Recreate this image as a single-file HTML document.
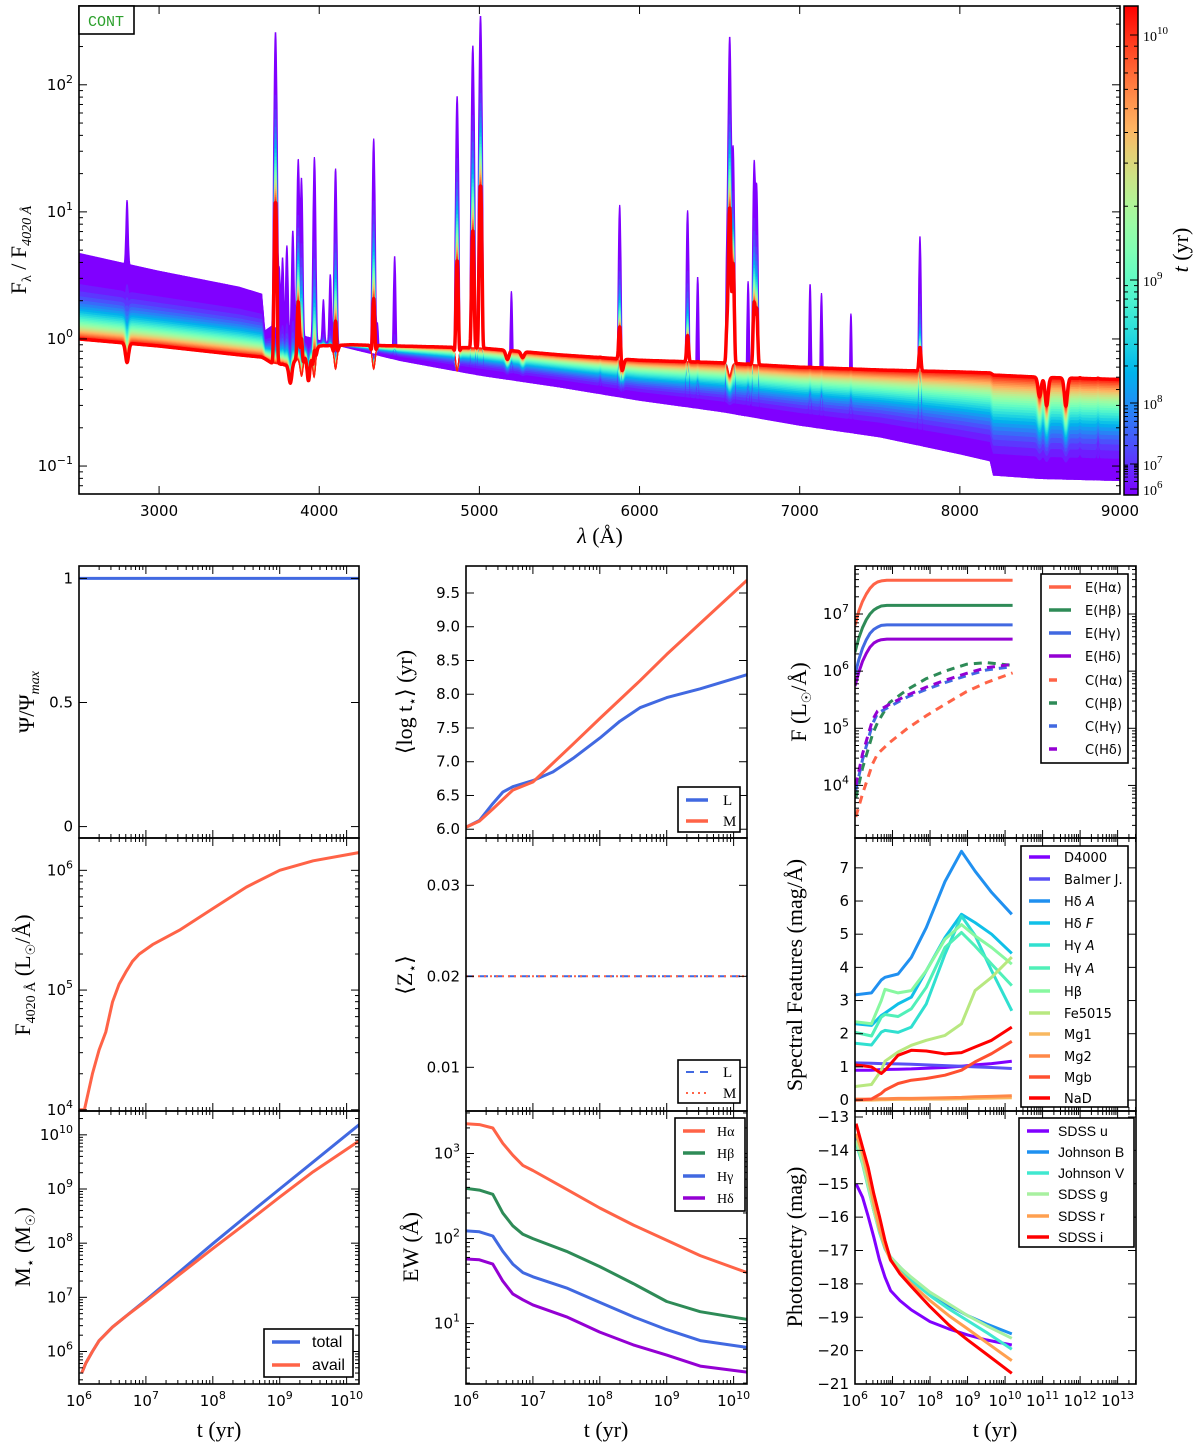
<!DOCTYPE html>
<html><head><meta charset="utf-8"><title>SED evolution</title>
<style>body{margin:0;background:#fff}svg{display:block}</style></head>
<body>
<svg id="fig" xmlns="http://www.w3.org/2000/svg" width="1200" height="1454" viewBox="0 0 1200 1454">
<rect x="0" y="0" width="1200" height="1454" fill="#fff"/>
<defs id="defs"></defs>
</svg>
<script>
// ---------------- DATA ----------------
const specWave=[2500,3000,3500,3640,3660,3700,3800,4000,4200,4500,5000,5500,6000,6500,7000,7500,8000,8190,8210,8500,9000];
const specYoung=[4.7,3.4,2.55,2.25,1.15,1.25,1.15,0.97,0.84,0.68,0.52,0.42,0.33,0.27,0.21,0.17,0.125,0.11,0.085,0.08,0.077];
const specOld=[1.0,0.88,0.75,0.72,0.7,0.65,0.62,0.88,0.9,0.88,0.85,0.75,0.68,0.65,0.6,0.57,0.55,0.54,0.52,0.5,0.48];
const lineWave=[2800,3727,3750,3771,3798,3835,3869,3889,3970,4026,4069,4102,4340,4363,4471,4861,4959,5007,5200,5755,5876,6300,6363,6548,6563,6584,6678,6716,6731,7065,7136,7320,7751,8750,8863];
const lineYoung=[9.5,260,3.5,4.2,5.3,7.0,26,18.5,27,2.1,3.3,22,38,1.6,4.8,82,205,350,2.9,1.2,12,11,3.8,8,240,34,3.6,26,17,3.5,3.1,2.4,7.3,0.75,1.2];
const lineOld=[0,12,0,0,0,0,2.0,1.2,1.0,0,0,1.5,2.2,0,0,4.3,7,16,0,0,1.3,1.1,0,1.5,11,4,0,2,1.8,0,0,0,1.0,0,0];
const absWave=[2800,3820,3890,3933,3968,4102,4340,4861,5175,5270,5890,6563,8498,8542,8662];
const absDepth=[0.3,0.3,0.3,0.4,0.4,0.35,0.35,0.35,0.15,0.1,0.2,0.2,0.3,0.4,0.4];
const cbTickLog=[6,7,8,9,10];
const sfrT=[6.0,10.2]; const sfrVal=[1,1];
const f4020T=[6.0,6.08,6.2,6.3,6.4,6.5,6.6,6.7,6.8,6.9,7.1,7.5,8.0,8.5,9.0,9.5,10.2];
const f4020Log=[4.0,4.0,4.3,4.5,4.65,4.9,5.05,5.15,5.24,5.3,5.38,5.5,5.68,5.86,6.0,6.08,6.15];
const massT=[6.04,6.1,6.2,6.3,6.5,6.7,7.0,7.5,8.0,8.5,9.0,9.5,10.2];
const massTotalLog=[5.6,5.78,6.0,6.2,6.45,6.65,6.95,7.47,7.99,8.5,9.0,9.5,10.2];
const massAvailLog=[5.6,5.78,6.0,6.2,6.45,6.65,6.93,7.42,7.9,8.37,8.85,9.32,9.9];
const ageT=[6.0,6.2,6.4,6.55,6.7,7.0,7.3,7.6,8.0,8.3,8.6,9.0,9.5,10.2];
const ageL=[6.03,6.13,6.38,6.55,6.63,6.72,6.85,7.05,7.35,7.6,7.8,7.95,8.08,8.29];
const ageM=[6.03,6.12,6.3,6.44,6.58,6.7,6.98,7.26,7.64,7.92,8.2,8.59,9.05,9.69];
const zT=[6.0,10.2]; const zL=[0.02,0.02]; const zM=[0.02,0.02];
const ewT=[6.0,6.2,6.4,6.55,6.7,6.85,7.0,7.5,8.0,8.5,9.0,9.5,10.2];
const ewHa=[3.35,3.34,3.30,3.12,2.98,2.86,2.80,2.58,2.36,2.16,1.98,1.80,1.60];
const ewHb=[2.59,2.57,2.52,2.30,2.15,2.05,2.0,1.85,1.67,1.47,1.26,1.14,1.05];
const ewHg=[2.09,2.08,2.03,1.85,1.70,1.60,1.55,1.42,1.25,1.08,0.93,0.80,0.72];
const ewHd=[1.76,1.75,1.70,1.50,1.35,1.28,1.22,1.08,0.90,0.75,0.63,0.50,0.43];
const emT=[6.0,6.1,6.2,6.3,6.4,6.5,6.6,6.7,6.85,7.0,8.0,9.0,10.2];
const emHa=[6.8,7.05,7.22,7.35,7.45,7.52,7.56,7.58,7.59,7.59,7.59,7.59,7.59];
const emHb=[6.33,6.58,6.76,6.9,7.0,7.07,7.11,7.14,7.15,7.15,7.15,7.15,7.15];
const emHg=[5.94,6.2,6.4,6.55,6.66,6.73,6.77,6.8,6.81,6.81,6.81,6.81,6.81];
const emHd=[5.74,5.98,6.17,6.31,6.42,6.49,6.53,6.55,6.56,6.56,6.56,6.56,6.56];
const coT=[6.02,6.2,6.47,6.6,6.92,7.4,7.9,8.4,8.97,9.5,10.2];
const coHa=[3.45,3.85,4.38,4.55,4.75,5.0,5.22,5.42,5.64,5.8,5.97];
const coHb=[3.78,4.3,4.9,5.1,5.45,5.68,5.87,6.0,6.12,6.15,6.1];
const coHg=[3.92,4.45,5.08,5.26,5.38,5.55,5.68,5.8,5.92,6.02,6.08];
const coHd=[4.0,4.55,5.15,5.3,5.42,5.58,5.72,5.84,5.96,6.06,6.12];
const sfT=[6.0,6.44,6.7,6.8,7.15,7.5,7.9,8.4,8.84,9.2,9.64,10.18];
const sfD4000=[0.9,0.9,0.92,0.92,0.93,0.94,0.96,0.98,1.02,1.06,1.1,1.17];
const sfBalmer=[1.12,1.11,1.1,1.1,1.09,1.08,1.06,1.04,1.02,1.0,0.98,0.95];
const sfHdA=[3.17,3.23,3.62,3.7,3.8,4.3,5.2,6.59,7.5,6.9,6.26,5.6];
const sfHdF=[2.3,2.25,2.55,2.62,2.9,3.1,3.9,4.9,5.6,5.35,5.0,4.42];
const sfHgA=[1.71,1.66,2.05,2.1,2.04,2.2,2.9,4.4,5.55,4.96,3.9,2.69];
const sfHgA2=[2.04,1.93,2.5,2.58,2.52,2.75,3.4,4.6,5.05,4.64,4.1,3.45];
const sfHb=[2.36,2.3,3.0,3.34,3.23,3.3,3.9,4.85,5.29,4.95,4.6,4.1];
const sfFe=[0.41,0.47,0.9,1.17,1.45,1.65,1.8,1.95,2.3,3.3,3.7,4.31];
const sfMg1=[0.0,0.0,0.01,0.01,0.02,0.02,0.03,0.03,0.04,0.05,0.06,0.07];
const sfMg2=[0.03,0.03,0.04,0.04,0.05,0.05,0.06,0.07,0.08,0.1,0.11,0.13];
const sfMgb=[0.0,0.03,0.2,0.3,0.5,0.6,0.65,0.75,0.9,1.15,1.4,1.77];
const sfNaD=[1.06,1.0,0.8,0.9,1.35,1.5,1.48,1.39,1.43,1.6,1.8,2.2];
const phT=[6.03,6.2,6.35,6.5,6.65,6.8,6.95,7.2,7.5,8.0,8.5,9.0,9.5,10.18];
const phU=[-15.0,-15.4,-15.97,-16.6,-17.28,-17.8,-18.2,-18.5,-18.78,-19.13,-19.35,-19.53,-19.68,-19.83];
const phB=[-13.6,-14.3,-15.0,-15.8,-16.4,-16.9,-17.2,-17.5,-17.85,-18.3,-18.65,-18.95,-19.2,-19.5];
const phV=[-13.8,-14.4,-15.1,-15.8,-16.45,-16.95,-17.25,-17.6,-17.9,-18.35,-18.75,-19.1,-19.45,-19.96];
const phG=[-13.7,-14.35,-15.05,-15.8,-16.4,-16.9,-17.2,-17.5,-17.8,-18.25,-18.6,-18.95,-19.25,-19.63];
const phR=[-13.5,-14.1,-14.8,-15.6,-16.35,-16.9,-17.3,-17.65,-18.0,-18.5,-18.95,-19.35,-19.75,-20.3];
const phI=[-13.2,-13.9,-14.5,-15.3,-15.97,-16.7,-17.28,-17.7,-18.08,-18.68,-19.23,-19.68,-20.1,-20.68];

// ---------------- HELPERS ----------------
const NS='http://www.w3.org/2000/svg';
const svg=document.getElementById('fig');
const defs=document.getElementById('defs');
const TF="'DejaVu Sans','Liberation Sans',sans-serif";
const SF="'Liberation Serif','DejaVu Serif',serif";
function mk(tag,attrs,parent){const e=document.createElementNS(NS,tag);for(const k in attrs)e.setAttribute(k,attrs[k]);parent.appendChild(e);return e;}
function rainbow(x){const r=Math.min(1,Math.abs(2*x-0.5)),g=Math.sin(Math.PI*x),b=Math.cos(Math.PI*x/2);
 return 'rgb('+Math.round(255*r)+','+Math.round(255*Math.max(0,g))+','+Math.round(255*Math.max(0,b))+')';}
let clipN=0;
function panel(p){
 const sx=v=>p.x0+(v-p.xd[0])/(p.xd[1]-p.xd[0])*(p.x1-p.x0);
 const sy=v=>p.y1-(v-p.yd[0])/(p.yd[1]-p.yd[0])*(p.y1-p.y0);
 const id='clip'+(clipN++);
 const cp=mk('clipPath',{id:id},defs);
 mk('rect',{x:p.x0,y:p.y0,width:p.x1-p.x0,height:p.y1-p.y0},cp);
 const g=mk('g',{'clip-path':'url(#'+id+')'},svg);
 
 
 return {sx,sy,g,p};
}
function logLabel(e,v){e.innerHTML='10<tspan dy="-7" font-size="11">'+(v<0?'\u2212'+(-v):v)+'</tspan>';}
function frame(P){
 const p=P.p,g=mk('g',{},svg);
 
 
 const tk=(x1,y1,x2,y2)=>{mk('line',{x1,y1,x2,y2,stroke:'#000','stroke-width':1},g);};
 const xmaj=p.xt, xmin=[];
 if(p.xlog){for(let d=Math.floor(p.xd[0]);d<=Math.ceil(p.xd[1]);d++)for(let m=2;m<10;m++){const v=d+Math.log10(m);if(v>p.xd[0]&&v<p.xd[1])xmin.push(v);}}
 xmaj.forEach(v=>{const x=P.sx(v);tk(x,p.y1,x,p.y1-8);tk(x,p.y0,x,p.y0+8);
   if(p.showX){const t=mk('text',{x:x,y:p.y1+22,'font-family':TF,'font-size':15,'text-anchor':'middle'},g);
     
     if(p.xlog)logLabel(t,v);else t.textContent=v;}});
 xmin.forEach(v=>{const x=P.sx(v);tk(x,p.y1,x,p.y1-4);tk(x,p.y0,x,p.y0+4);});
 const ymin=[];
 if(p.ylog){for(let d=Math.floor(p.yd[0]);d<=Math.ceil(p.yd[1]);d++)for(let m=2;m<10;m++){const v=d+Math.log10(m);if(v>p.yd[0]&&v<p.yd[1])ymin.push(v);}}
 p.yt.forEach(v=>{const y=P.sy(v);tk(p.x0,y,p.x0+8,y);tk(p.x1,y,p.x1-8,y);
   const t=mk('text',{x:p.x0-6,y:y+5,'font-family':TF,'font-size':15,'text-anchor':'end'},g);
   
   if(p.ylog)logLabel(t,v);else t.textContent=p.yfmt?p.yfmt(v):String(v).replace('-','\u2212');});
 ymin.forEach(v=>{const y=P.sy(v);tk(p.x0,y,p.x0+4,y);tk(p.x1,y,p.x1-4,y);});
 mk('rect',{x:p.x0,y:p.y0,width:p.x1-p.x0,height:p.y1-p.y0,fill:'none',stroke:'#000','stroke-width':1.6},g);
}
function series(P,xs,ys,color,w,dash,name){
 const d=xs.map((x,i)=>(i?'L':'M')+P.sx(x).toFixed(1)+','+P.sy(ys[i]).toFixed(1)).join('');
 const a={d:d,fill:'none',stroke:color,'stroke-width':w,'stroke-linejoin':'round'};
 if(dash)a['stroke-dasharray']=dash;
 const e=mk('path',a,P.g);
 
 
 return e;
}
function legend(name,x0,y0,x1,y1,items,lx0,lx1,tx,font,fs){
 const g=mk('g',{},svg);
 
 
 mk('rect',{x:x0,y:y0,width:x1-x0,height:y1-y0,fill:'#fff',stroke:'#000','stroke-width':1.6},g);
 items.forEach(it=>{
  const a={x1:lx0,y1:it.y,x2:lx1,y2:it.y,stroke:it.c,'stroke-width':it.w||3.5};
  if(it.dash)a['stroke-dasharray']=it.dash;
  mk('line',a,g);
  const t=mk('text',{x:tx,y:it.y+5,'font-family':font,'font-size':fs},g);
  
  
  t.innerHTML=it.t;});
}
function label(txt,x,y,rot,fs,name){
 const t=mk('text',{x:x,y:y,'font-family':SF,'font-size':fs,'text-anchor':'middle',transform:rot?'rotate(-90 '+x+' '+y+')':''},svg);
 
 
 t.innerHTML=txt;
}
function interp(xs,ys,x){if(x<=xs[0])return ys[0];for(let i=1;i<xs.length;i++)if(x<=xs[i]){const f=(x-xs[i-1])/(xs[i]-xs[i-1]);return ys[i-1]+f*(ys[i]-ys[i-1]);}return ys[ys.length-1];}

// ---------------- TOP SPECTRUM ----------------
const TOP=panel({name:'spectrum',x0:79,x1:1120,y0:6,y1:494,xd:[2500,9000],yd:[-1.22,2.62],xlog:false,ylog:true,xt:[3000,4000,5000,6000,7000,8000,9000],yt:[-1,0,1,2],showX:true});
(function(){
 const N=30, grid=[];for(let l=2500;l<=9000;l+=2)grid.push(l);
 const ly=specYoung.map(Math.log10), lo=specOld.map(Math.log10);
 const expW=[2500,4000,6000,9000], expV=[0.3,0.35,0.45,0.45];
 const conts=[], curves=[];
 for(let k=0;k<N;k++){
  const f=k/(N-1), wl=Math.pow(f,0.3);
  const cc=[], cl=[];
  grid.forEach(l=>{
   const w=Math.pow(f,interp(expW,expV,l));
   let c=Math.pow(10,interp(specWave,ly,l)*(1-w)+interp(specWave,lo,l)*w);
   let ab=1;
   absWave.forEach((a,i)=>{const d=(l-a)/10;if(Math.abs(d)<4)ab*=1-absDepth[i]*w*Math.exp(-0.5*d*d);});
   c*=ab;
   let add=0;
   lineWave.forEach((lw,i)=>{const d=(l-lw)/5.5;if(Math.abs(d)<4){
     const ay=Math.max(lineYoung[i]-1,0.01), ao=lineOld[i]>0?Math.max(lineOld[i]-specOld[0]*0.7,0.05):0.005;
     add+=Math.pow(ay,1-wl)*Math.pow(ao,wl)*Math.exp(-0.5*d*d);}});
   cc.push(Math.log10(c)); cl.push(Math.log10(c+add));});
  conts.push(cc); curves.push(cl);
 }
 function bands(set,nm){
  for(let k=0;k<N-1;k++){
   let d='';
   grid.forEach((l,i)=>{d+=(i?'L':'M')+TOP.sx(l).toFixed(1)+','+TOP.sy(set[k][i]).toFixed(1);});
   for(let i=grid.length-1;i>=0;i--)d+='L'+TOP.sx(grid[i]).toFixed(1)+','+TOP.sy(set[k+1][i]).toFixed(1);
   const e=mk('path',{d:d+'Z',fill:rainbow(k/(N-1)),stroke:rainbow(k/(N-1)),'stroke-width':1.2},TOP.g);
   
   
  }
 }
 bands(conts,'continuum-age-band');
 bands(curves,'spectrum-age-band');
 series(TOP,grid,curves[N-1],'#ff0000',3.5,null,'spectrum-oldest');
})();
frame(TOP);
(function(){const g=mk('g',{},svg);
 
 
 mk('rect',{x:79,y:6,width:55,height:28,fill:'#fff',stroke:'#000','stroke-width':1.6},g);
 const t=mk('text',{x:106,y:26,'font-family':"'Liberation Mono',monospace",'font-size':15,fill:'#2ca02c','text-anchor':'middle'},g);t.textContent='CONT';})();
(function(){
 const lg=mk('linearGradient',{id:'cbgrad',x1:0,y1:1,x2:0,y2:0},defs);
 for(let i=0;i<=20;i++)mk('stop',{offset:i/20,'stop-color':rainbow(i/20)},lg);
 const g=mk('g',{},svg);
 
 
 mk('rect',{x:1124,y:6,width:14,height:489,fill:'url(#cbgrad)',stroke:'#000','stroke-width':1.5},g);
 const cbPos=[489,464,403,280,35,6];const cbL=[6,7,8,9,10,10.17];
 const cy=v=>interp(cbL,cbPos,v);
 cbTickLog.forEach(v=>{const y=cy(v);mk('line',{x1:1130,y1:y,x2:1138,y2:y,stroke:'#000'},g);
  const t=mk('text',{x:1143,y:y+6,'font-family':SF,'font-size':14},g);
  
  logLabel(t,v);});
 for(let d=6;d<=10;d++)for(let m=2;m<10;m++){const v=d+Math.log10(m);if(v<10.17){const y=cy(v);mk('line',{x1:1124,y1:y,x2:1128,y2:y,stroke:'#000'},g);mk('line',{x1:1134,y1:y,x2:1138,y2:y,stroke:'#000'},g);}}
})();
label('<tspan font-style="italic">t</tspan> (yr)',1188,250,true,22,'colorbar-title');
label('F<tspan font-size="14" dy="5">λ</tspan><tspan dy="-5"> / F</tspan><tspan font-size="14" dy="5" font-style="italic">4020 Å</tspan>',26,250,true,22,'spectrum-y-title');
label('<tspan font-style="italic">λ</tspan> (Å)',600,543,false,22,'spectrum-x-title');

// ---------------- BOTTOM PANELS ----------------
const C1=[79,359],C2=[466,747],C3=[855,1136],R1=[566,838],R2=[838,1111],R3=[1111,1384];
const XT=[6,7,8,9,10], XT3=[6,7,8,9,10,11,12,13];
function P(name,C,R,xd,yd,ylog,yt,showX,xt,yfmt){return panel({name,x0:C[0],x1:C[1],y0:R[0],y1:R[1],xd,yd,xlog:true,ylog,xt,yt,showX,yfmt});}

const p11=P('sfr',C1,R1,[6,10.185],[-0.046,1.05],false,[0,0.5,1],false,XT);
series(p11,sfrT,sfrVal,'#4169e1',3,null,'sfr-line'); frame(p11);
const p12=P('f4020',C1,R2,[6,10.185],[3.99,6.27],true,[4,5,6],false,XT);
series(p12,f4020T,f4020Log,'#ff6347',3,null,'f4020-line'); frame(p12);
const p13=P('mass',C1,R3,[6,10.185],[5.4,10.44],true,[6,7,8,9,10],true,XT);
series(p13,massT,massTotalLog,'#4169e1',3,null,'mass-total-line');
series(p13,massT,massAvailLog,'#ff6347',3,null,'mass-avail-line'); frame(p13);
legend('mass-legend',264,1329,353,1377,[{t:'total',c:'#4169e1',y:1342},{t:'avail',c:'#ff6347',y:1365}],272,300,312,"'Liberation Sans Narrow','Liberation Sans',sans-serif",16);

const p21=P('mean-age',C2,R1,[6,10.2],[5.87,9.9],false,[6,6.5,7,7.5,8,8.5,9,9.5],false,XT,v=>v.toFixed(1));
series(p21,ageT,ageL,'#4169e1',3,null,'age-L-line');
series(p21,ageT,ageM,'#ff6347',3,null,'age-M-line'); frame(p21);
legend('age-legend',678,787,740,832,[{t:'L',c:'#4169e1',y:800},{t:'M',c:'#ff6347',y:821}],686,708,723,SF,15);
const p22=P('metallicity',C2,R2,[6,10.2],[0.0052,0.0352],false,[0.01,0.02,0.03],false,XT,v=>v.toFixed(2));
series(p22,zT,zL,'#4169e1',2,'8 6','Z-L-line');
series(p22,zT,zM,'#ff6347',2,'2 4','Z-M-line'); frame(p22);
legend('Z-legend',678,1060,740,1103,[{t:'L',c:'#4169e1',y:1072,w:2,dash:'8 6'},{t:'M',c:'#ff6347',y:1093,w:2,dash:'2 4'}],686,708,723,SF,15);
const p23=P('ew',C2,R3,[6,10.2],[0.29,3.5],true,[1,2,3],true,XT);
series(p23,ewT,ewHa,'#ff6347',3,null,'ew-Ha-line');
series(p23,ewT,ewHb,'#2e8b57',3,null,'ew-Hb-line');
series(p23,ewT,ewHg,'#4169e1',3,null,'ew-Hg-line');
series(p23,ewT,ewHd,'#9400d3',3,null,'ew-Hd-line'); frame(p23);
legend('ew-legend',675,1118,745,1211,[{t:'Hα',c:'#ff6347',y:1131},{t:'Hβ',c:'#2e8b57',y:1153},{t:'Hγ',c:'#4169e1',y:1176},{t:'Hδ',c:'#9400d3',y:1198}],683,705,717,SF,14);

const p31=P('line-flux',C3,R1,[6,13.49],[3.08,7.84],true,[4,5,6,7],false,XT3);
series(p31,emT,emHa,'#ff6347',3,null,'E-Ha-line');
series(p31,emT,emHb,'#2e8b57',3,null,'E-Hb-line');
series(p31,emT,emHg,'#4169e1',3,null,'E-Hg-line');
series(p31,emT,emHd,'#9400d3',3,null,'E-Hd-line');
series(p31,coT,coHa,'#ff6347',3,'8 6','C-Ha-line');
series(p31,coT,coHb,'#2e8b57',3,'8 6','C-Hb-line');
series(p31,coT,coHg,'#4169e1',3,'8 6','C-Hg-line');
series(p31,coT,coHd,'#9400d3',3,'8 6','C-Hd-line'); frame(p31);
legend('line-flux-legend',1041,574,1128,763,[
 {t:'E(Hα)',c:'#ff6347',y:587},{t:'E(Hβ)',c:'#2e8b57',y:610},{t:'E(Hγ)',c:'#4169e1',y:633},{t:'E(Hδ)',c:'#9400d3',y:656},
 {t:'C(Hα)',c:'#ff6347',y:680,dash:'8 20'},{t:'C(Hβ)',c:'#2e8b57',y:703,dash:'8 20'},{t:'C(Hγ)',c:'#4169e1',y:726,dash:'8 20'},{t:'C(Hδ)',c:'#9400d3',y:749,dash:'8 20'}],
 1049,1071,1085,TF,13);
const p32=P('spectral-features',C3,R2,[6,13.49],[-0.33,7.9],false,[0,1,2,3,4,5,6,7],false,XT3);
const sfCols=['#8000ff','#5a50f5','#2090f0','#10c0e8','#30e0d0','#50f0b8','#88f8a0','#b8e880','#f8b860','#ff8848','#ff5030','#ff0000'];
const sfSets=[sfD4000,sfBalmer,sfHdA,sfHdF,sfHgA,sfHgA2,sfHb,sfFe,sfMg1,sfMg2,sfMgb,sfNaD];
const sfNames=['D4000','Balmer J.','Hδ <tspan font-style="italic">A</tspan>','Hδ <tspan font-style="italic">F</tspan>','Hγ <tspan font-style="italic">A</tspan>','Hγ <tspan font-style="italic">A</tspan>','Hβ','Fe5015','Mg1','Mg2','Mgb','NaD'];
sfSets.forEach((s,i)=>series(p32,sfT,s,sfCols[i],3,null,'feature-line'));
frame(p32);
const sfY=[857,879,901,923,945,968,991,1013,1034,1056,1077,1098];
legend('features-legend',1021,846,1128,1107,sfNames.map((t,i)=>({t:t,c:sfCols[i],y:sfY[i]})),1029,1050,1064,TF,13);
const p33=P('photometry',C3,R3,[6,13.49],[-21,-12.82],false,[-21,-20,-19,-18,-17,-16,-15,-14,-13],true,XT3);
const phCols=['#8000ff','#1e90f0','#40e8d0','#a8f0a0','#ffa050','#ff0000'];
const phSets=[phU,phB,phV,phG,phR,phI];
const phNames=['SDSS u','Johnson B','Johnson V','SDSS g','SDSS r','SDSS i'];
phSets.forEach((s,i)=>series(p33,phT,s,phCols[i],3,null,'photometry-line'));
frame(p33);
const phY=[1131,1152,1173,1194,1216,1237];
legend('photometry-legend',1019,1118,1134,1247,phNames.map((t,i)=>({t:t,c:phCols[i],y:phY[i]})),1027,1049,1058,"'Liberation Sans Narrow','Liberation Sans',sans-serif",14);

label('Ψ/Ψ<tspan font-size="14" dy="5" font-style="italic">max</tspan>',34,702,true,22,'sfr-y-title');
label('F<tspan font-size="14" dy="5">4020 Å</tspan><tspan dy="-5"> (L</tspan><tspan font-size="13" dy="5">☉</tspan><tspan dy="-5">/Å)</tspan>',30,975,true,22,'f4020-y-title');
label('M<tspan font-size="14" dy="5">⋆</tspan><tspan dy="-5"> (M</tspan><tspan font-size="13" dy="5">☉</tspan><tspan dy="-5">)</tspan>',30,1247,true,22,'mass-y-title');
label('⟨log t<tspan font-size="14" dy="5">⋆</tspan><tspan dy="-5">⟩ (yr)</tspan>',412,702,true,22,'age-y-title');
label('⟨Z<tspan font-size="14" dy="5">⋆</tspan><tspan dy="-5">⟩</tspan>',412,975,true,22,'Z-y-title');
label('EW (Å)',418,1247,true,22,'ew-y-title');
label('F (L<tspan font-size="13" dy="5">☉</tspan><tspan dy="-5">/Å)</tspan>',806,702,true,22,'line-flux-y-title');
label('Spectral Features (mag/Å)',802,975,true,22,'features-y-title');
label('Photometry (mag)',802,1247,true,22,'photometry-y-title');
label('t (yr)',219,1437,false,22,'x-title-col1');
label('t (yr)',606,1437,false,22,'x-title-col2');
label('t (yr)',995,1437,false,22,'x-title-col3');
</script>
</body></html>
